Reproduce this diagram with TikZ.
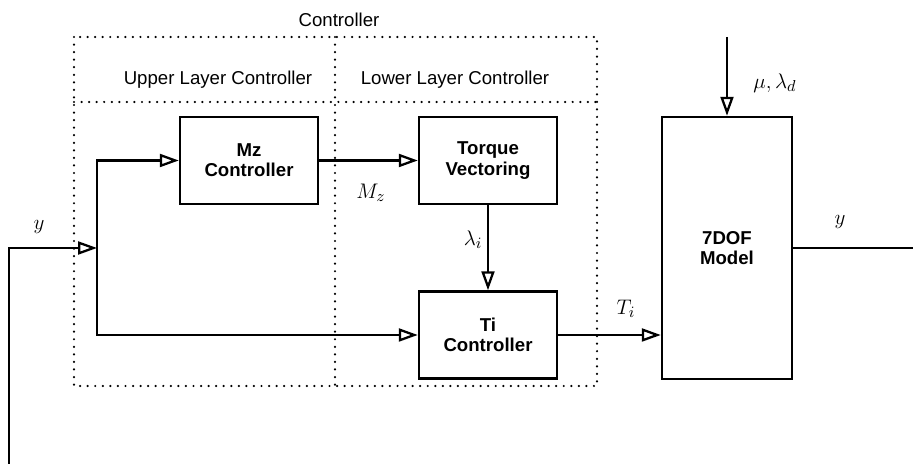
\documentclass[tikz,border=0pt]{standalone}
\usepackage{fontspec}
\setmainfont{Liberation Sans}
\usepackage{tikz}
\usetikzlibrary{arrows.meta,positioning,calc}

\begin{document}
\begin{tikzpicture}[font=\fontsize{10.6}{11.5}\selectfont,
  >={Triangle[open,length=0.38cm,width=0.26cm]},
  line width=1.3pt,
  blk/.style={draw,line width=1.4pt,align=center,font=\fontsize{10.6}{11.5}\selectfont\bfseries,inner sep=0pt},
  dotbox/.style={line width=1.4pt,dash pattern=on 0pt off 4.3pt,line cap=round},
  sig/.style={font=\fontsize{13}{13}\selectfont}]
\useasboundingbox (0,0) rectangle (18.26,-9.28);
% controller regions
\draw[dotbox] (1.48,-0.74) rectangle (11.94,-7.72);
\draw[dotbox] (1.48,-2.04) -- (11.94,-2.04);
\draw[dotbox] (6.70,-0.74) -- (6.70,-7.72);
\node (tc) at (6.78,-0.40) {Controller};
\node (tu) at (4.36,-1.60) {Upper Layer Controller};
\node (tl) at (9.10,-1.60) {Lower Layer Controller};
% blocks
\node[blk,minimum width=2.76cm,minimum height=1.74cm] (mz) at (4.98,-3.21) {Mz\\Controller};
\node[blk,minimum width=2.76cm,minimum height=1.74cm] (tv) at (9.76,-3.21) {Torque\\Vectoring};
\node[blk,minimum width=2.76cm,minimum height=1.74cm] (ti) at (9.76,-6.70) {Ti\\Controller};
\node[blk,minimum width=2.60cm,minimum height=5.24cm] (model) at (14.54,-4.96) {7DOF\\Model};
% free ends
\coordinate (yin) at (0.18,-9.28);
\coordinate (br) at (1.94,-4.96);
\coordinate (mu) at (14.54,-0.74);
\coordinate (yout) at (18.26,-4.96);
% signal labels
\node[sig] (ly1) at (0.78,-4.54) {$y$};
\node[sig] (lmz) at (7.42,-3.86) {$M_z$};
\node[sig] (lli) at (9.46,-4.80) {$\lambda_i$};
\node[sig] (lti) at (12.52,-6.18) {$T_i$};
\node[sig] (lmu) at (15.50,-1.66) {$\mu,\lambda_d$};
\node[sig] (ly2) at (16.80,-4.44) {$y$};
% arrows
\draw[->] (yin) |- (br);
\draw[->] (br) |- (mz.west);
\draw[->] (br) |- (ti.west);
\draw[->] (mz) -- (tv);
\draw[->] (tv) -- (ti);
\draw[->] (ti.east) -- (ti.east -| model.west);
\draw[->] (mu) -- (model.north);
\draw (model.east) -- (yout);
\end{tikzpicture}
\end{document}
